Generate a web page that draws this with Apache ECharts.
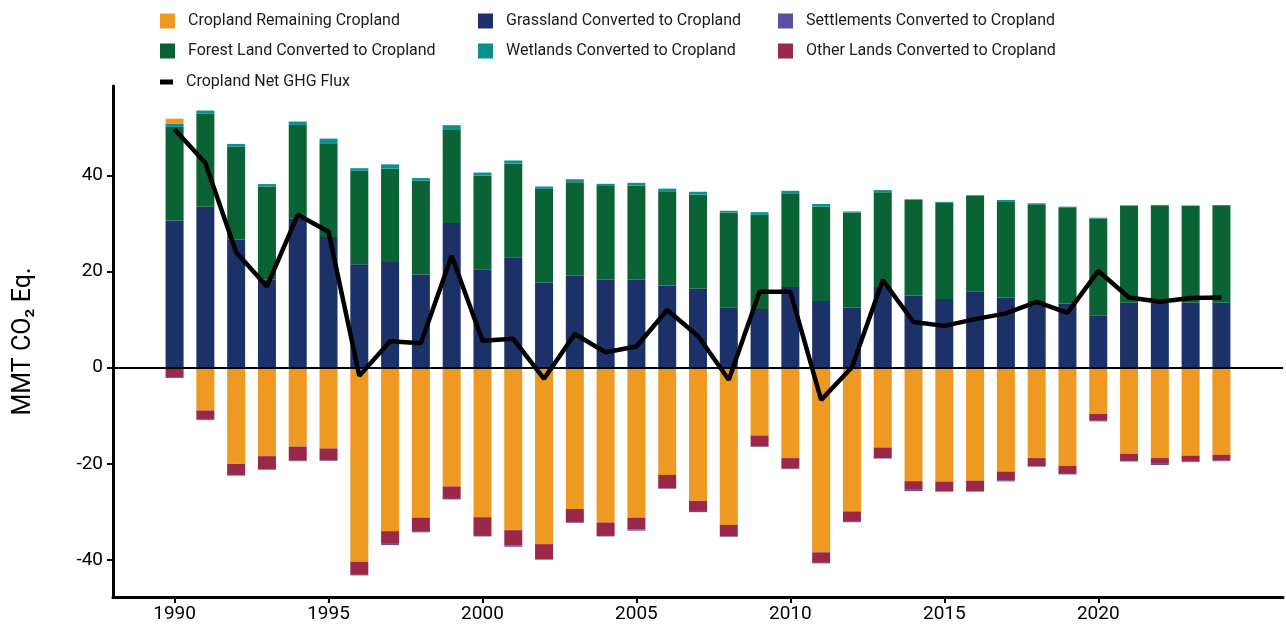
<!DOCTYPE html>
<html>
<head>
<meta charset="utf-8">
<script src="https://cdn.jsdelivr.net/npm/echarts@6/dist/echarts.min.js"></script>
<style>
  html, body { margin: 0; padding: 0; background: #fff; }
  #chart { width: 1286px; height: 631px; }
</style>
</head>
<body>
<div id="chart"></div>
<script>
// years shown on the axis
var years = [1990, 1991, 1992, 1993, 1994, 1995, 1996, 1997, 1998, 1999,
             2000, 2001, 2002, 2003, 2004, 2005, 2006, 2007, 2008, 2009,
             2010, 2011, 2012, 2013, 2014, 2015, 2016, 2017, 2018, 2019,
             2020, 2021, 2022, 2023, 2024];
var yearLabels = [1990, 1995, 2000, 2005, 2010, 2015, 2020];
var yTickLabels = [-40, -20, 0, 20, 40];

// MMT CO2 Eq.
var croplandRemaining = [1.0, -8.9, -20.0, -18.4, -16.4, -16.8, -40.4, -34.0, -31.2, -24.7,
                         -31.1, -33.8, -36.7, -29.4, -32.2, -31.2, -22.3, -27.7, -32.7, -14.1,
                         -18.8, -38.4, -29.9, -16.6, -23.6, -23.7, -23.5, -21.6, -18.8, -20.4,
                         -9.6, -17.9, -18.8, -18.3, -18.1];
var grassland = [30.6, 33.5, 26.6, 18.3, 31.1, 27.2, 21.5, 22.0, 19.4, 30.1,
                 20.5, 23.0, 17.7, 19.2, 18.3, 18.3, 17.1, 16.4, 12.6, 12.2,
                 16.8, 13.9, 12.5, 16.8, 15.0, 14.3, 15.9, 14.6, 13.9, 13.3,
                 10.9, 13.5, 13.5, 13.5, 13.5];
var forest = [19.5, 19.3, 19.4, 19.4, 19.4, 19.5, 19.5, 19.4, 19.5, 19.5,
              19.5, 19.5, 19.5, 19.4, 19.5, 19.6, 19.6, 19.6, 19.7, 19.6,
              19.5, 19.6, 19.8, 19.7, 19.9, 20.0, 19.9, 20.0, 20.1, 20.1,
              20.1, 20.2, 20.3, 20.2, 20.3];
var wetlands = [0.7, 0.7, 0.55, 0.5, 0.7, 0.95, 0.5, 0.9, 0.55, 0.85,
                0.6, 0.6, 0.5, 0.6, 0.45, 0.55, 0.55, 0.6, 0.35, 0.55,
                0.5, 0.55, 0.2, 0.45, 0.15, 0.2, 0.1, 0.28, 0.2, 0.1,
                0.2, 0.1, 0.05, 0.05, 0.05];
var settlements = [-0.05, -0.1, -0.1, -0.1, -0.1, -0.1, -0.1, -0.25, -0.25, -0.1,
                   -0.1, -0.25, -0.1, -0.1, -0.1, -0.25, -0.1, -0.25, -0.1, -0.1,
                   -0.1, -0.1, -0.1, -0.1, -0.25, -0.1, -0.1, -0.25, -0.1, -0.1,
                   -0.1, -0.1, -0.25, -0.1, -0.1];
var otherLands = [-2.1, -1.9, -2.35, -2.75, -2.95, -2.5, -2.7, -2.65, -2.8, -2.6,
                  -3.9, -3.2, -3.15, -2.8, -2.8, -2.45, -2.8, -2.1, -2.4, -2.3,
                  -2.2, -2.2, -2.15, -2.2, -1.8, -2.0, -2.2, -1.8, -1.7, -1.7,
                  -1.45, -1.5, -1.2, -1.25, -1.25];
var netFlux = [49.6, 42.6, 24.0, 16.9, 31.8, 28.3, -1.7, 5.5, 5.1, 23.3,
               5.6, 6.0, -2.3, 7.0, 3.2, 4.4, 12.0, 6.6, -2.5, 15.8,
               15.8, -6.7, 0.1, 18.2, 9.5, 8.7, 10.1, 11.3, 13.7, 11.4,
               20.1, 14.6, 13.7, 14.5, 14.6];

// axis runs from 1988 to 2026 so the first and last bars sit off the edges
var axisCats = ['1988', '1989'].concat(years.map(String)).concat(['2025', '2026']);
function pad(arr) { return [null, null].concat(arr).concat([null, null]); }
function isLabelYear(v) { return yearLabels.indexOf(+v) >= 0; }

var colors = {
    cropland: '#ee9a22',
    grassland: '#1c3168',
    forest: '#0a6334',
    wetlands: '#0b9090',
    settlements: '#5a4fa3',
    other: '#9b2849'
};
var fontFam = 'Roboto, "DejaVu Sans", sans-serif';

function barSeries(name, data, color) {
    return {
        name: name,
        type: 'bar',
        stack: 'total',
        barWidth: 18,
        itemStyle: { color: color },
        data: pad(data)
    };
}

var series = [
    barSeries('Grassland Converted to Cropland', grassland, colors.grassland),
    barSeries('Forest Land Converted to Cropland', forest, colors.forest),
    barSeries('Wetlands Converted to Cropland', wetlands, colors.wetlands),
    barSeries('Cropland Remaining Cropland', croplandRemaining, colors.cropland),
    barSeries('Other Lands Converted to Cropland', otherLands, colors.other),
    barSeries('Settlements Converted to Cropland', settlements, colors.settlements),
    {
        name: 'Cropland Net GHG Flux',
        type: 'line',
        data: pad(netFlux),
        symbol: 'none',
        z: 5,
        lineStyle: { color: '#000', width: 4.5 },
        itemStyle: { color: '#000' }
    }
];
series[0].markLine = {
    silent: true,
    symbol: ['none', 'none'],
    label: { show: false },
    lineStyle: { color: '#000', width: 2, type: 'solid' },
    data: [{ yAxis: 0 }]
};

// legend placement, three columns
var legendSpots = [
    ['Cropland Remaining Cropland', 160, 13],
    ['Grassland Converted to Cropland', 478, 13],
    ['Settlements Converted to Cropland', 778, 13],
    ['Forest Land Converted to Cropland', 160, 43],
    ['Wetlands Converted to Cropland', 478, 43],
    ['Other Lands Converted to Cropland', 778, 43],
    ['Cropland Net GHG Flux', 160, 74]
];
var legends = legendSpots.map(function (s) {
    var isLine = s[0] === 'Cropland Net GHG Flux';
    return {
        data: [{ name: s[0], icon: 'rect' }],
        left: s[1],
        top: s[2],
        padding: 0,
        itemWidth: isLine ? 13 : 15,
        itemHeight: isLine ? 5 : 15,
        selectedMode: false,
        textStyle: { fontFamily: fontFam, fontSize: 16, color: '#1a1a1a', padding: [0, 0, 0, 8] }
    };
});

var chart = echarts.init(document.getElementById('chart'));
chart.setOption({
    animation: false,
    backgroundColor: '#fff',
    legend: legends,
    grid: { left: 113, right: 3, top: 86, bottom: 34 },
    xAxis: {
        type: 'category',
        data: axisCats,
        boundaryGap: false,
        axisLine: { onZero: false, lineStyle: { color: '#000', width: 3 } },
        axisTick: {
            interval: function (i, v) { return isLabelYear(v); },
            length: 6,
            lineStyle: { color: '#000', width: 2 }
        },
        axisLabel: {
            interval: function (i, v) { return isLabelYear(v); },
            color: '#000',
            fontSize: 19,
            fontFamily: fontFam,
            margin: 8
        },
        splitLine: { show: false }
    },
    yAxis: {
        type: 'value',
        min: -47.7,
        max: 58.6,
        name: 'MMT CO\u2082 Eq.',
        nameLocation: 'middle',
        nameGap: 77,
        nameTextStyle: { fontFamily: fontFam, fontSize: 25, color: '#000' },
        axisLine: { show: true, lineStyle: { color: '#000', width: 3 } },
        axisTick: { show: true, customValues: yTickLabels, length: 6, lineStyle: { color: '#000', width: 2 } },
        axisLabel: { customValues: yTickLabels, color: '#000', fontSize: 19, fontFamily: fontFam, margin: 10 },
        splitLine: { show: false }
    },
    series: series
});
</script>
</body>
</html>
